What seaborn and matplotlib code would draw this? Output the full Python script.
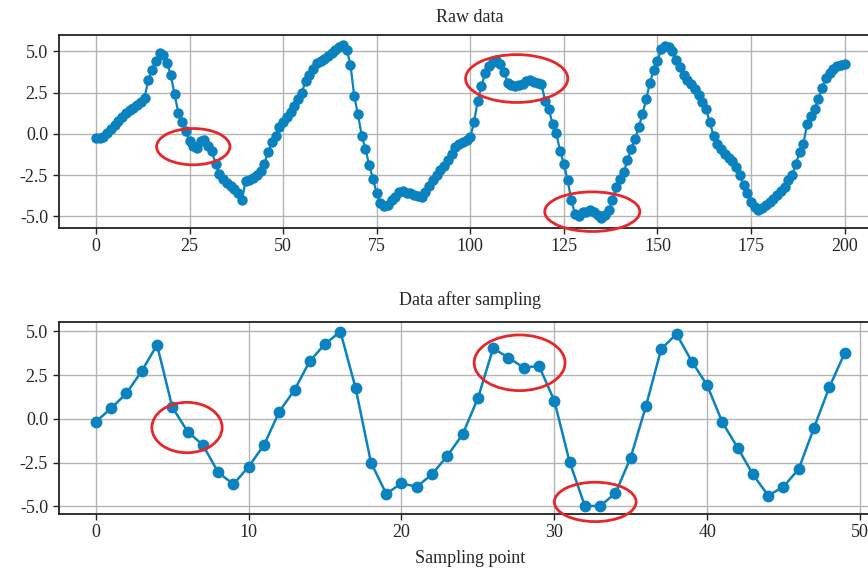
import numpy as np
import pandas as pd
import seaborn as sns
import matplotlib
matplotlib.use("Agg")
import matplotlib.pyplot as plt
from matplotlib.patches import Ellipse

# Raw measured signal, one value per sample index 0..200
raw_signal = [
    -0.25, -0.25, -0.20, 0.05, 0.30, 0.55, 0.80, 1.05, 1.25, 1.45,
    1.60, 1.75, 1.95, 2.20, 3.30, 3.90, 4.45, 4.90, 4.80, 4.30,
    3.60, 2.40, 1.30, 0.70, 0.15, -0.45, -0.70, -0.85, -0.45, -0.35,
    -0.75, -1.05, -1.85, -2.45, -2.75, -2.95, -3.15, -3.35, -3.60, -4.00,
    -2.85, -2.80, -2.65, -2.50, -2.25, -1.80, -1.10, -0.50, -0.10, 0.40,
    0.75, 1.05, 1.35, 1.70, 2.10, 2.50, 3.20, 3.60, 3.95, 4.30,
    4.45, 4.55, 4.75, 4.90, 5.10, 5.30, 5.40, 5.10, 4.20, 2.30,
    1.20, -0.10, -0.90, -1.90, -2.70, -3.60, -4.20, -4.35, -4.30, -4.00,
    -3.80, -3.50, -3.45, -3.55, -3.60, -3.70, -3.75, -3.80, -3.50, -3.15,
    -2.80, -2.50, -2.20, -1.95, -1.60, -1.20, -0.80, -0.60, -0.50, -0.35,
    -0.20, 0.70, 2.00, 2.90, 3.70, 4.10, 4.35, 4.50, 4.25, 3.75,
    3.10, 2.95, 2.90, 2.95, 3.05, 3.20, 3.30, 3.15, 3.10, 3.05,
    2.00, 1.50, 0.60, 0.05, -1.05, -1.80, -2.80, -4.00, -4.85, -5.00,
    -4.75, -4.70, -4.60, -4.75, -4.90, -5.10, -4.90, -4.60, -4.00, -3.20,
    -2.70, -2.30, -1.60, -0.90, -0.30, 0.40, 1.20, 2.10, 3.10, 3.90,
    4.40, 5.15, 5.35, 5.30, 5.00, 4.50, 4.05, 3.60, 3.30, 3.00,
    2.70, 2.35, 1.95, 1.50, 0.70, -0.10, -0.60, -0.90, -1.20, -1.45,
    -1.65, -2.00, -2.50, -3.10, -3.55, -4.15, -4.45, -4.60, -4.50, -4.30,
    -4.10, -3.95, -3.70, -3.45, -3.20, -2.80, -2.50, -1.80, -1.10, -0.60,
    0.60, 1.10, 1.50, 2.10, 2.80, 3.40, 3.70, 3.95, 4.10, 4.20,
    4.25,
]
raw_index = list(range(len(raw_signal)))

# Signal after sampling, one value per sampling point 0..49
sampled_signal = [
    -0.15, 0.61, 1.47, 2.74, 4.23, 0.67, -0.72, -1.49, -3.05, -3.73,
    -2.72, -1.49, 0.42, 1.66, 3.31, 4.29, 4.99, 1.75, -2.49, -4.27,
    -3.68, -3.87, -3.16, -2.11, -0.88, 1.18, 4.04, 3.50, 2.93, 3.03,
    1.05, -2.44, -4.97, -4.97, -4.25, -2.21, 0.74, 4.00, 4.86, 3.28,
    1.94, -0.19, -1.64, -3.16, -4.38, -3.87, -2.86, -0.50, 1.81, 3.75,
]
sampled_index = list(range(len(sampled_signal)))

raw_ticks = [0, 25, 50, 75, 100, 125, 150, 175, 200]
sampled_ticks = [0, 10, 20, 30, 40, 50]
value_ticks = [-5.0, -2.5, 0.0, 2.5, 5.0]

# Highlighted regions: (center x, center y, width, height)
raw_marks = [(26.0, -0.77, 19.6, 2.2), (112.4, 3.36, 27.3, 2.9), (132.6, -4.71, 25.4, 2.4)]
sampled_marks = [(5.96, -0.49, 4.6, 2.88), (27.73, 3.21, 5.95, 3.18), (32.68, -4.74, 5.35, 2.25)]

sns.set_style("ticks", {"axes.grid": True, "grid.color": "#b4b4b4",
                        "axes.edgecolor": "#222222"})
plt.rcParams["font.family"] = ["Liberation Serif", "DejaVu Serif"]
plt.rcParams["axes.unicode_minus"] = False
plt.rcParams["font.size"] = 13

line_color = "#0a82c0"
mark_color = "#e8262a"

W, H = 868, 582
fig = plt.figure(figsize=(W / 100, H / 100), dpi=100)
left, right = 58.5, 882
ax1 = fig.add_axes([left / W, 1 - 228 / H, (right - left) / W, (228 - 35) / H])
ax2 = fig.add_axes([left / W, 1 - 514 / H, (right - left) / W, (514 - 322) / H])

raw_df = pd.DataFrame({"index": raw_index, "value": raw_signal})
smp_df = pd.DataFrame({"index": sampled_index, "value": sampled_signal})

sns.lineplot(data=raw_df, x="index", y="value", ax=ax1, color=line_color,
             linewidth=1.6, marker="o", markersize=7.5, markeredgewidth=0,
             markeredgecolor=line_color)
sns.lineplot(data=smp_df, x="index", y="value", ax=ax2, color=line_color,
             linewidth=1.8, marker="o", markersize=8.5, markeredgewidth=0,
             markeredgecolor=line_color)

for ax, marks in ((ax1, raw_marks), (ax2, sampled_marks)):
    for cx, cy, w, h in marks:
        ax.add_patch(Ellipse((cx, cy), w, h, fill=False, edgecolor=mark_color,
                             linewidth=2.0, clip_on=False, zorder=5))

ax1.set_xlim(-10, 210)
ax1.set_ylim(-5.7, 6.0)
ax1.set_xticks(raw_ticks)
ax2.set_xlim(-2.45, 51.45)
ax2.set_ylim(-5.43, 5.54)
ax2.set_xticks(sampled_ticks)

for ax in (ax1, ax2):
    ax.set_yticks(value_ticks)
    ax.set_yticklabels([f"{v:.1f}" for v in value_ticks])
    ax.set_ylabel("")
    ax.grid(True, color="#b4b4b4", linewidth=1.0)
    ax.tick_params(axis="both", labelsize=13, length=4, width=1, color="#222222")
    for sp in ax.spines.values():
        sp.set_linewidth(1.3)

ax1.set_xlabel("")
ax1.set_title("Raw data", fontsize=13, pad=9)
ax2.set_title("Data after sampling", fontsize=13, pad=12)
ax2.set_xlabel("Sampling point", fontsize=13, labelpad=6)

fig.savefig("out.png", dpi=100)
